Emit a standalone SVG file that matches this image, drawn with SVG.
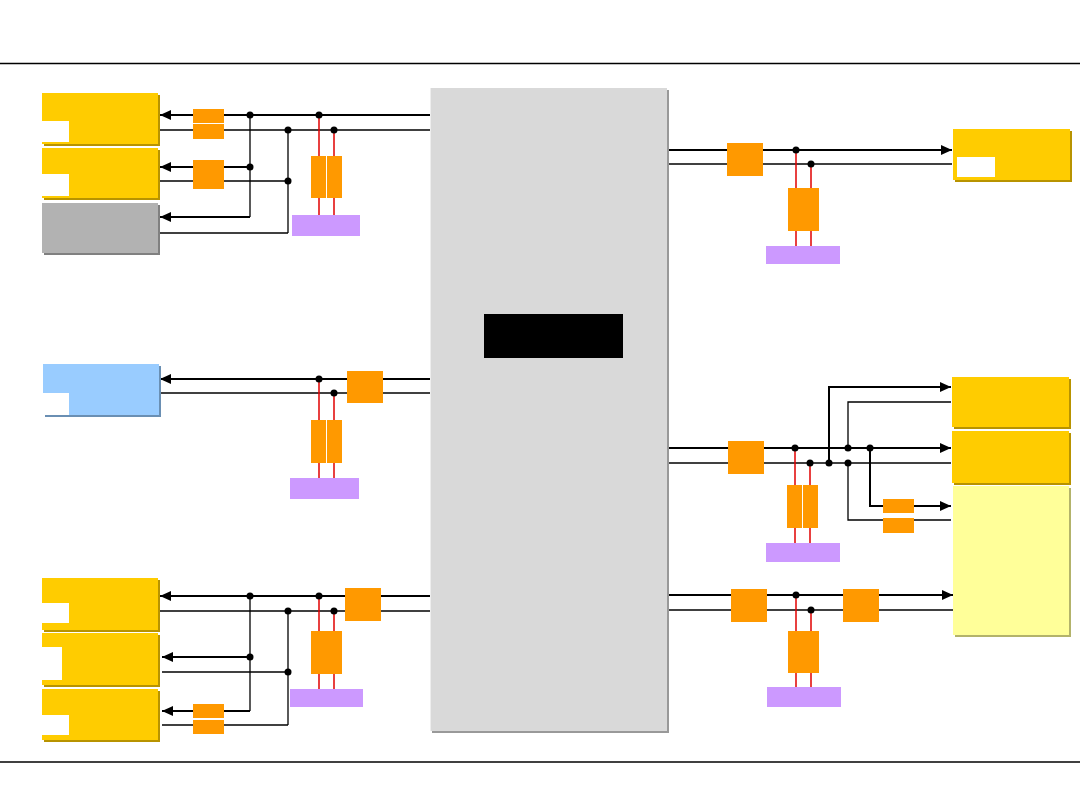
<svg xmlns="http://www.w3.org/2000/svg" width="1080" height="810" viewBox="0 0 1080 810">
<style>
.rule{stroke:#000;stroke-width:1.5}
.th{stroke:#000;stroke-width:2;fill:none}
.tn{stroke:#000;stroke-width:1.3;fill:none}
.red{stroke:#e00000;stroke-width:1.5}
.dot{fill:#000}
.yel{fill:#ffcc00}
.ysh{fill:#b89300}
.org{fill:#ff9900}
.pur{fill:#cc99ff}
.blu{fill:#99ccff}
.bsh{fill:#6a8fb3}
.gry{fill:#b2b2b2}
.gsh{fill:#808080}
.lyel{fill:#ffff99}
.lysh{fill:#b3b36b}
.notch{fill:#fff}
</style>
<defs>
<marker id="arr" markerUnits="userSpaceOnUse" markerWidth="12" markerHeight="10" refX="11" refY="5" orient="auto">
<path d="M0,0 L11,5 L0,10 z" fill="#000"/>
</marker>
</defs>
<rect width="1080" height="810" fill="#fff"/>
<line class="rule" x1="0" y1="63.5" x2="1080" y2="63.5"/>
<line class="rule" x1="0" y1="762" x2="1080" y2="762"/>

<g id="connectors">
<!-- top-left -->
<line class="th" x1="430" y1="115" x2="160" y2="115" marker-end="url(#arr)"/>
<line class="tn" x1="430" y1="130" x2="160" y2="130"/>
<line class="tn" x1="250" y1="115" x2="250" y2="217"/>
<line class="tn" x1="288" y1="130" x2="288" y2="233"/>
<line class="th" x1="250" y1="167" x2="160" y2="167" marker-end="url(#arr)"/>
<line class="tn" x1="288" y1="181" x2="160" y2="181"/>
<line class="th" x1="250" y1="217" x2="160" y2="217" marker-end="url(#arr)"/>
<line class="tn" x1="288" y1="233" x2="160" y2="233"/>
<line class="red" x1="319" y1="115" x2="319" y2="215"/>
<line class="red" x1="334" y1="130" x2="334" y2="215"/>
<circle class="dot" cx="250" cy="115" r="3.5"/>
<circle class="dot" cx="288" cy="130" r="3.5"/>
<circle class="dot" cx="250" cy="167" r="3.5"/>
<circle class="dot" cx="288" cy="181" r="3.5"/>
<circle class="dot" cx="319" cy="115" r="3.5"/>
<circle class="dot" cx="334" cy="130" r="3.5"/>
<!-- top-right -->
<line class="th" x1="667" y1="150" x2="952" y2="150" marker-end="url(#arr)"/>
<line class="tn" x1="667" y1="164" x2="952" y2="164"/>
<line class="red" x1="796" y1="150" x2="796" y2="246"/>
<line class="red" x1="811" y1="164" x2="811" y2="246"/>
<circle class="dot" cx="796" cy="150" r="3.5"/>
<circle class="dot" cx="811" cy="164" r="3.5"/>
<!-- middle-left -->
<line class="th" x1="430" y1="379" x2="160" y2="379" marker-end="url(#arr)"/>
<line class="tn" x1="430" y1="393" x2="160" y2="393"/>
<line class="red" x1="319" y1="379" x2="319" y2="478"/>
<line class="red" x1="334" y1="393" x2="334" y2="478"/>
<circle class="dot" cx="319" cy="379" r="3.5"/>
<circle class="dot" cx="334" cy="393" r="3.5"/>
<!-- middle-right -->
<line class="th" x1="667" y1="448" x2="951" y2="448" marker-end="url(#arr)"/>
<line class="tn" x1="667" y1="463" x2="951" y2="463"/>
<polyline class="th" points="829,463 829,387 951,387" marker-end="url(#arr)"/>
<polyline class="tn" points="848,448 848,402 951,402"/>
<polyline class="th" points="870,448 870,506 951,506" marker-end="url(#arr)"/>
<polyline class="tn" points="848,463 848,520 951,520"/>
<line class="red" x1="795" y1="448" x2="795" y2="543"/>
<line class="red" x1="810" y1="463" x2="810" y2="543"/>
<circle class="dot" cx="795" cy="448" r="3.5"/>
<circle class="dot" cx="810" cy="463" r="3.5"/>
<circle class="dot" cx="829" cy="463" r="3.5"/>
<circle class="dot" cx="848" cy="448" r="3.5"/>
<circle class="dot" cx="848" cy="463" r="3.5"/>
<circle class="dot" cx="870" cy="448" r="3.5"/>
<!-- bottom-left -->
<line class="th" x1="430" y1="596" x2="160" y2="596" marker-end="url(#arr)"/>
<line class="tn" x1="430" y1="611" x2="160" y2="611"/>
<line class="tn" x1="250" y1="596" x2="250" y2="711"/>
<line class="tn" x1="288" y1="611" x2="288" y2="725"/>
<line class="th" x1="250" y1="657" x2="162" y2="657" marker-end="url(#arr)"/>
<line class="tn" x1="288" y1="672" x2="162" y2="672"/>
<line class="th" x1="250" y1="711" x2="162" y2="711" marker-end="url(#arr)"/>
<line class="tn" x1="288" y1="725" x2="162" y2="725"/>
<line class="red" x1="319" y1="596" x2="319" y2="689"/>
<line class="red" x1="334" y1="611" x2="334" y2="689"/>
<circle class="dot" cx="250" cy="596" r="3.5"/>
<circle class="dot" cx="288" cy="611" r="3.5"/>
<circle class="dot" cx="250" cy="657" r="3.5"/>
<circle class="dot" cx="288" cy="672" r="3.5"/>
<circle class="dot" cx="319" cy="596" r="3.5"/>
<circle class="dot" cx="334" cy="611" r="3.5"/>
<!-- bottom-right -->
<line class="th" x1="667" y1="595" x2="953" y2="595" marker-end="url(#arr)"/>
<line class="tn" x1="667" y1="610" x2="953" y2="610"/>
<line class="red" x1="796" y1="595" x2="796" y2="687"/>
<line class="red" x1="811" y1="610" x2="811" y2="687"/>
<circle class="dot" cx="796" cy="595" r="3.5"/>
<circle class="dot" cx="811" cy="610" r="3.5"/>
</g>

<g id="center">
<rect x="432" y="90" width="237" height="643" fill="#999"/>
<rect x="430" y="88" width="237" height="643" fill="#d9d9d9"/>
<line x1="430.5" y1="88" x2="430.5" y2="731" stroke="#eeeeee" stroke-width="1"/>
<rect x="484" y="314" width="139" height="44" fill="#000"/>
</g>

<!-- left column nodes -->
<g id="tl-box1"><rect class="ysh" x="44" y="95" width="116" height="51"/><rect class="yel" x="42" y="93" width="116" height="51"/><rect class="notch" x="42" y="121" width="27" height="21"/></g>
<g id="tl-box2"><rect class="ysh" x="44" y="150" width="116" height="50"/><rect class="yel" x="42" y="148" width="116" height="50"/><rect class="notch" x="42" y="174" width="27" height="22"/></g>
<g id="tl-box3"><rect class="gsh" x="44" y="205" width="116" height="50"/><rect class="gry" x="42" y="203" width="116" height="50"/></g>
<g id="tl-filter1"><rect class="org" x="193" y="109" width="31" height="14"/><rect class="org" x="193" y="124" width="31" height="15"/></g>
<g id="tl-filter2"><rect class="org" x="193" y="160" width="31" height="29"/></g>
<g id="tl-filter3"><rect class="org" x="311" y="156" width="15" height="42"/><rect class="org" x="327" y="156" width="15" height="42"/></g>
<g id="tl-purple"><rect class="pur" x="292" y="215" width="68" height="21"/></g>

<g id="ml-box"><rect class="bsh" x="45" y="366" width="116" height="51"/><rect class="blu" x="43" y="364" width="116" height="51"/><rect class="notch" x="43" y="393" width="26" height="22"/></g>
<g id="ml-filter1"><rect class="org" x="347" y="371" width="36" height="32"/></g>
<g id="ml-filter2"><rect class="org" x="311" y="420" width="15" height="43"/><rect class="org" x="327" y="420" width="15" height="43"/></g>
<g id="ml-purple"><rect class="pur" x="290" y="478" width="69" height="21"/></g>

<g id="bl-box1"><rect class="ysh" x="44" y="580" width="116" height="52"/><rect class="yel" x="42" y="578" width="116" height="52"/><rect class="notch" x="42" y="603" width="27" height="20"/></g>
<g id="bl-box2"><rect class="ysh" x="44" y="635" width="116" height="52"/><rect class="yel" x="42" y="633" width="116" height="52"/><rect class="notch" x="42" y="647" width="20" height="33"/></g>
<g id="bl-box3"><rect class="ysh" x="44" y="691" width="116" height="51"/><rect class="yel" x="42" y="689" width="116" height="51"/><rect class="notch" x="42" y="715" width="27" height="20"/></g>
<g id="bl-filter1"><rect class="org" x="345" y="588" width="36" height="33"/></g>
<g id="bl-filter2"><rect class="org" x="311" y="631" width="31" height="43"/></g>
<g id="bl-filter3"><rect class="org" x="193" y="704" width="31" height="14"/><rect class="org" x="193" y="720" width="31" height="14"/></g>
<g id="bl-purple"><rect class="pur" x="290" y="689" width="73" height="18"/></g>

<!-- right column nodes -->
<g id="tr-box"><rect class="ysh" x="955" y="131" width="117" height="51"/><rect class="yel" x="953" y="129" width="117" height="51"/><rect class="notch" x="957" y="157" width="38" height="20"/></g>
<g id="tr-filter1"><rect class="org" x="727" y="143" width="36" height="33"/></g>
<g id="tr-filter2"><rect class="org" x="788" y="188" width="31" height="43"/></g>
<g id="tr-purple"><rect class="pur" x="766" y="246" width="74" height="18"/></g>

<g id="mr-boxA"><rect class="ysh" x="954" y="379" width="117" height="50"/><rect class="yel" x="952" y="377" width="117" height="50"/></g>
<g id="mr-boxB"><rect class="ysh" x="954" y="433" width="117" height="52"/><rect class="yel" x="952" y="431" width="117" height="52"/></g>
<g id="mr-boxC"><rect class="lysh" x="955" y="488" width="116" height="149"/><rect class="lyel" x="953" y="486" width="116" height="149"/></g>
<g id="mr-filter1"><rect class="org" x="728" y="441" width="36" height="33"/></g>
<g id="mr-filter2"><rect class="org" x="787" y="485" width="15" height="43"/><rect class="org" x="803" y="485" width="15" height="43"/></g>
<g id="mr-filter3"><rect class="org" x="883" y="499" width="31" height="14"/><rect class="org" x="883" y="518" width="31" height="15"/></g>
<g id="mr-purple"><rect class="pur" x="766" y="543" width="74" height="19"/></g>

<g id="br-filter1"><rect class="org" x="731" y="589" width="36" height="33"/></g>
<g id="br-filter2"><rect class="org" x="843" y="589" width="36" height="33"/></g>
<g id="br-filter3"><rect class="org" x="788" y="631" width="31" height="42"/></g>
<g id="br-purple"><rect class="pur" x="767" y="687" width="74" height="20"/></g>
</svg>
